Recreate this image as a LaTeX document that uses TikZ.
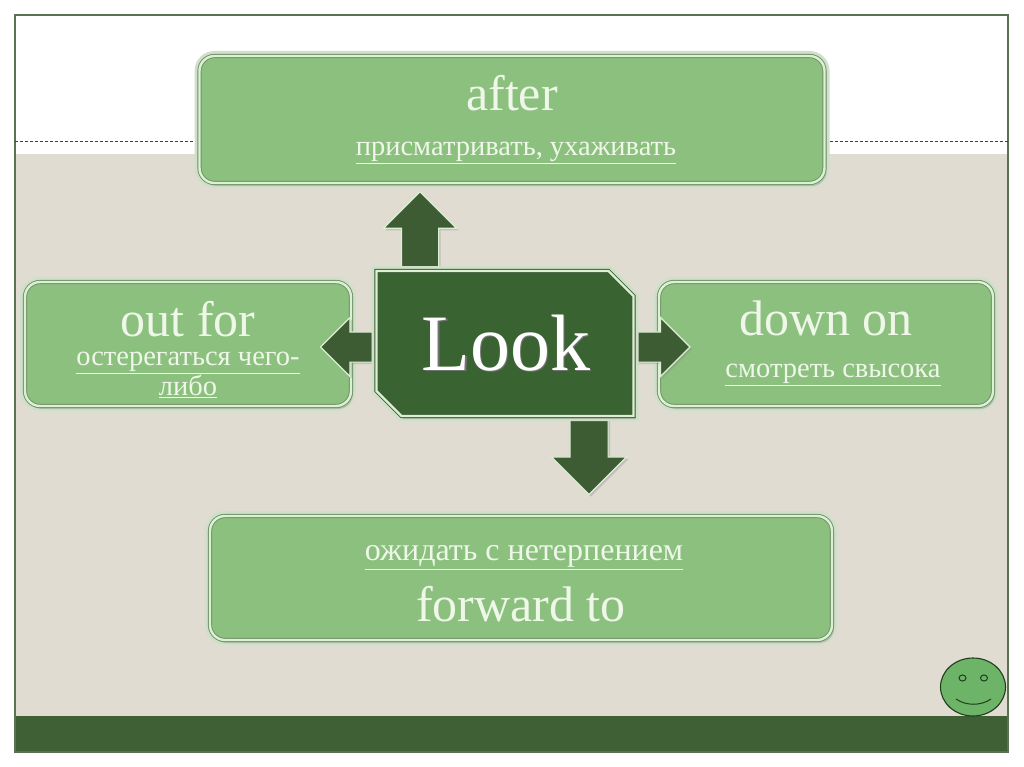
\documentclass[tikz,border=0pt]{standalone}
\usepackage{fontspec}
\setmainfont{Liberation Serif}
\usetikzlibrary{shadows,shapes.arrows,shapes.misc}

\definecolor{boxgreen}{HTML}{8CC07F}
\definecolor{darkgreen}{HTML}{3A6332}
\definecolor{arrowgreen}{HTML}{3E5C34}
\definecolor{footgreen}{HTML}{3F6035}
\definecolor{halo}{HTML}{CFE0C8}
\definecolor{innerrim}{HTML}{DCF0D4}
\definecolor{rim}{HTML}{6F8F66}
\definecolor{beige}{HTML}{E0DCD2}
\definecolor{paletext}{HTML}{EEF7E8}
\definecolor{smile}{HTML}{6DB368}
\definecolor{smileline}{HTML}{1F3F1C}

\newcommand{\headsize}{\fontsize{50}{50}\selectfont}
\newcommand{\subsize}{\fontsize{28.5}{28}\selectfont}

\tikzset{
	greenbox/.style={rectangle,rounded corners=15pt,fill=boxgreen,draw=rim,double=innerrim,double distance=2.4pt,line width=.9pt,
		preaction={draw=halo,line width=10pt},
		drop shadow={shadow xshift=2pt,shadow yshift=-3pt,opacity=.35},
		align=center,text=paletext,inner sep=0pt,outer sep=0pt},
	blockarrow/.style={single arrow,single arrow head indent=0pt,fill=arrowgreen,draw=innerrim,line width=1.2pt,
		drop shadow={shadow xshift=2pt,shadow yshift=-2pt,opacity=.3},inner sep=0pt,outer sep=0pt},
	lookbox/.style={chamfered rectangle,chamfered rectangle corners={north east,south west},chamfered rectangle xsep=12.5pt,chamfered rectangle ysep=12.5pt,
		fill=darkgreen,draw=arrowgreen,double=innerrim,double distance=2.4pt,line width=.9pt,
		preaction={draw=halo,line width=10pt},
		drop shadow={shadow xshift=2pt,shadow yshift=-3pt,opacity=.35},
		text=white,inner sep=0pt,outer sep=0pt}
}

\begin{document}
\begin{tikzpicture}[x=1pt,y=-1pt]
	\useasboundingbox (0,0) rectangle (1024,767);
	
	% slide background
	\fill [beige] (15,154) rectangle (1008,716);
	\fill [footgreen] (15,716) rectangle (1008,752);
	\draw [rim!80!black,line width=1.2pt] (15,15) rectangle (1008,752);
	\draw [black!75,densely dashed,line width=.7pt] (15,141) -- (1008,141);
	
	\node [greenbox,minimum width=625pt,minimum height=127pt] (after) at (512,119.5)
		{\headsize after\\[30pt]\subsize\hspace*{8pt}\underline{присматривать, ухаживать}};
	\node [greenbox,minimum width=326pt,minimum height=124pt] (outfor) at (188,344)
		{\headsize\rule{0pt}{46pt}out for\\[14pt]\subsize\underline{остерегаться чего-}\\\subsize\underline{либо}};
	\node [greenbox,minimum width=334pt,minimum height=124pt] (downon) at (826,344)
		{\headsize down on\\[27pt]\subsize\hspace*{14pt}\underline{смотреть свысока}\rule[-10pt]{0pt}{0pt}};
	\node [greenbox,minimum width=622pt,minimum height=124pt] (forward) at (521,578)
		{\fontsize{32}{28}\selectfont\rule{0pt}{27pt}\hspace*{6pt}\underline{ожидать с нетерпением}\\[16pt]\headsize forward to};
	
	\foreach \n/\x/\y/\r/\l/\w in {up/420/239/90/76/72,down/589/447/-90/76/74,left/354/347/180/52/58,right/655.5/347/0/54/58}
		\node [blockarrow,rotate=\r,minimum height=\l pt,minimum width=\w pt,inner ysep=.25*\w pt,single arrow head extend=.25*\w pt] (arrow\n) at (\x,\y) {};
	
	\node [lookbox,minimum width=257pt,minimum height=145pt] (look) at (505,343.5)
		{\fontsize{80}{80}\selectfont\hspace*{2pt}\rlap{\kern1.5pt\raisebox{-1.5pt}{\color{black!55}Look}}Look};
	
	% smiley
	\draw [fill=smile,draw=smileline,line width=1.1pt] (973,687) ellipse (32.5 and 29);
	\draw [draw=smileline,line width=1pt] (962.5,678) ellipse (3.5 and 3) (984,678) ellipse (3.5 and 3);
	\draw [smileline,line width=1pt] (956,699) .. controls (966,706) and (981,706) .. (991,699);
	
\end{tikzpicture}
\end{document}
